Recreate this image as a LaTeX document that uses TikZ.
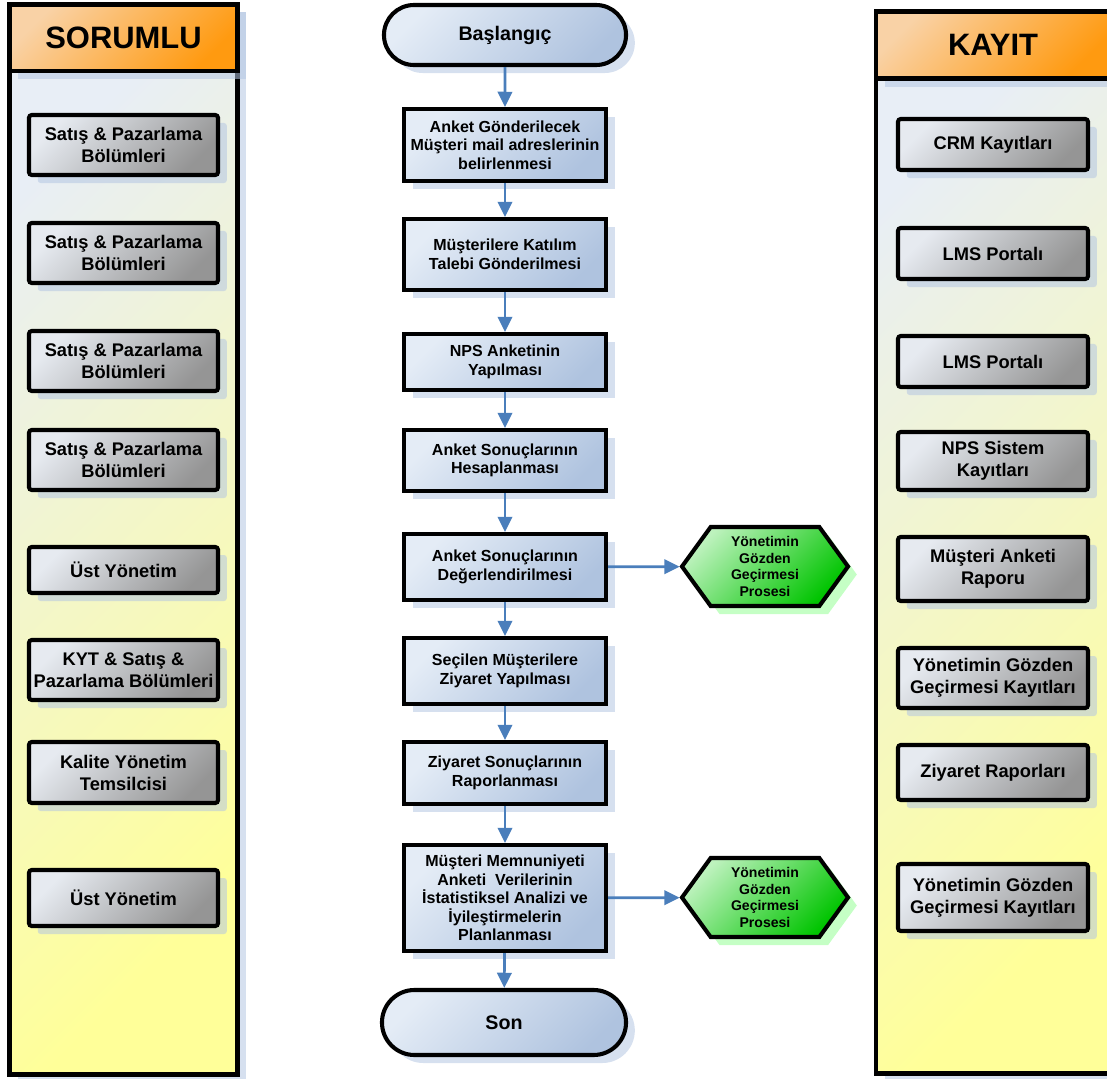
\documentclass[tikz,border=0pt]{standalone}
\usepackage{fontspec}
\setmainfont{Liberation Sans}
\usetikzlibrary{shapes.misc}
\usetikzlibrary{shapes.symbols}
\usetikzlibrary{shadows}
\usetikzlibrary{arrows.meta}

\definecolor{seritacik}{HTML}{E8EEF6}
\definecolor{seritsari}{HTML}{FFFF99}
\definecolor{turuncuacik}{HTML}{F9D2A6}
\definecolor{turuncu}{HTML}{FF9A10}
\definecolor{griacik}{HTML}{E6EAF0}
\definecolor{gri}{HTML}{959595}
\definecolor{maviacik}{HTML}{E4ECF6}
\definecolor{mavi}{HTML}{AFC3DF}
\definecolor{yesilacik}{HTML}{BDF2BD}
\definecolor{yesil}{HTML}{00C400}
\definecolor{okmavi}{HTML}{4A7EBB}
\definecolor{golge}{HTML}{B4C6E2}

\begin{document}
\begin{tikzpicture}[x=0.025cm, y=-0.025cm,
  golgeli/.style={drop shadow={shadow xshift=0.22cm, shadow yshift=-0.2cm, fill=golge, opacity=0.55}},
  serit/.style={draw=black, line width=3.5pt, golgeli, top color=seritacik, bottom color=seritsari, shading angle=45, inner sep=0pt},
  baslik/.style={draw=black, line width=3.5pt, golgeli, top color=turuncuacik, bottom color=turuncu, shading angle=45, inner sep=0pt, font=\fontsize{22}{26}\selectfont\bfseries},
  yankutu/.style={draw=black, line width=2.9pt, rounded corners=2pt, golgeli, top color=griacik, bottom color=gri, shading angle=45, align=center, inner sep=0pt, font=\fontsize{13}{15.6}\selectfont\bfseries},
  adim/.style={draw=black, line width=2.9pt, golgeli, top color=maviacik, bottom color=mavi, shading angle=45, align=center, minimum width=5.05cm, inner sep=0pt, font=\fontsize{11.4}{13.2}\selectfont\bfseries},
  uc/.style={rounded rectangle, draw=black, line width=2.9pt, golgeli, top color=maviacik, bottom color=mavi, shading angle=45, inner sep=0pt, font=\fontsize{14}{16}\selectfont\bfseries},
  surec/.style={signal, signal to=west and east, signal pointer angle=108, draw=black, line width=2.9pt, drop shadow={shadow xshift=0.22cm, shadow yshift=-0.2cm, fill=green!45, opacity=0.5}, top color=yesilacik, bottom color=yesil, shading angle=45, align=center, inner sep=0pt, minimum width=4.15cm, minimum height=1.975cm, font=\fontsize{10}{11.7}\selectfont\bfseries},
  ok/.style={draw=okmavi, line width=1.9pt, -{Triangle[width=0.36cm,length=0.38cm]}}
]
\clip (0,0) rectangle (1107,1079);

% seritler
\node[serit, minimum width=5.7cm, minimum height=26.75cm] (sol) at (123.5,539.5) {};
\node[baslik, minimum width=5.7cm, minimum height=1.6625cm] (sorumlu) at (123.5,37.75) {SORUMLU};
\node[serit, minimum width=5.85cm, minimum height=26.55cm] (sag) at (993,542.5) {};
\node[baslik, minimum width=5.85cm, minimum height=1.675cm] (kayit) at (993,45) {KAYIT};

% sorumlular
\foreach \i/\y/\h/\yazi in {1/145/1.5/{Satış \& Pazarlama\\Bölümleri},
    2/253/1.5/{Satış \& Pazarlama\\Bölümleri},
    3/361/1.5/{Satış \& Pazarlama\\Bölümleri},
    4/460/1.5/{Satış \& Pazarlama\\Bölümleri},
    5/570/1.15/{Üst Yönetim},
    6/670/1.5/{KYT \& Satış \&\\Pazarlama Bölümleri},
    7/772.5/1.525/{Kalite Yönetim\\Temsilcisi},
    8/898/1.4/{Üst Yönetim}} {
  \node[yankutu, minimum width=4.725cm, minimum height=\h cm] (s_\i) at (123.5,\y) {\yazi};
}

% kayitlar
\foreach \i/\y/\h/\yazi in {1/144.5/1.275/{CRM Kayıtları},
    2/253.5/1.275/{LMS Portalı},
    3/361.5/1.275/{LMS Portalı},
    4/461/1.45/{NPS Sistem\\Kayıtları},
    5/569/1.6/{Müşteri Anketi\\Raporu},
    6/678/1.5/{Yönetimin Gözden\\Geçirmesi Kayıtları},
    7/772.5/1.375/{Ziyaret Raporları},
    8/897.5/1.675/{Yönetimin Gözden\\Geçirmesi Kayıtları}} {
  \node[yankutu, minimum width=4.75cm, minimum height=\h cm] (k_\i) at (993,\y) {\yazi};
}

% akis
\node[uc, minimum width=6.05cm, minimum height=1.5cm] (a_0) at (505,35) {Başlangıç};
\foreach \i/\y/\h/\yazi in {1/145/1.8/{Anket Gönderilecek\\Müşteri mail adreslerinin\\belirlenmesi},
    2/254.5/1.775/{Müşterilere Katılım\\Talebi Gönderilmesi},
    3/362/1.4/{NPS Anketinin\\Yapılması},
    4/460.5/1.525/{Anket Sonuçlarının\\Hesaplanması},
    5/567/1.65/{Anket Sonuçlarının\\Değerlendirilmesi},
    6/671/1.65/{Seçilen Müşterilere\\Ziyaret Yapılması},
    7/773/1.55/{Ziyaret Sonuçlarının\\Raporlanması},
    8/898/2.65/{Müşteri Memnuniyeti\\Anketi\ \ Verilerinin\\İstatistiksel Analizi ve\\İyileştirmelerin\\Planlanması}} {
  \node[adim, minimum height=\h cm] (a_\i) at (505,\y) {\yazi};
}
\node[uc, minimum width=6.1cm, minimum height=1.625cm] (a_9) at (504,1022.5) {Son};

\node[surec] (h_1) at (765,566.5) {Yönetimin\\Gözden\\Geçirmesi\\Prosesi};
\node[surec] (h_2) at (765,897.5) {Yönetimin\\Gözden\\Geçirmesi\\Prosesi};

\foreach \i in {0,...,8} {
  \pgfmathtruncatemacro{\j}{\i+1};
  \draw[ok] (a_\i) -- (a_\j);
}
\draw[ok] (a_5) -- (h_1);
\draw[ok] (a_8) -- (h_2);
\end{tikzpicture}
\end{document}
